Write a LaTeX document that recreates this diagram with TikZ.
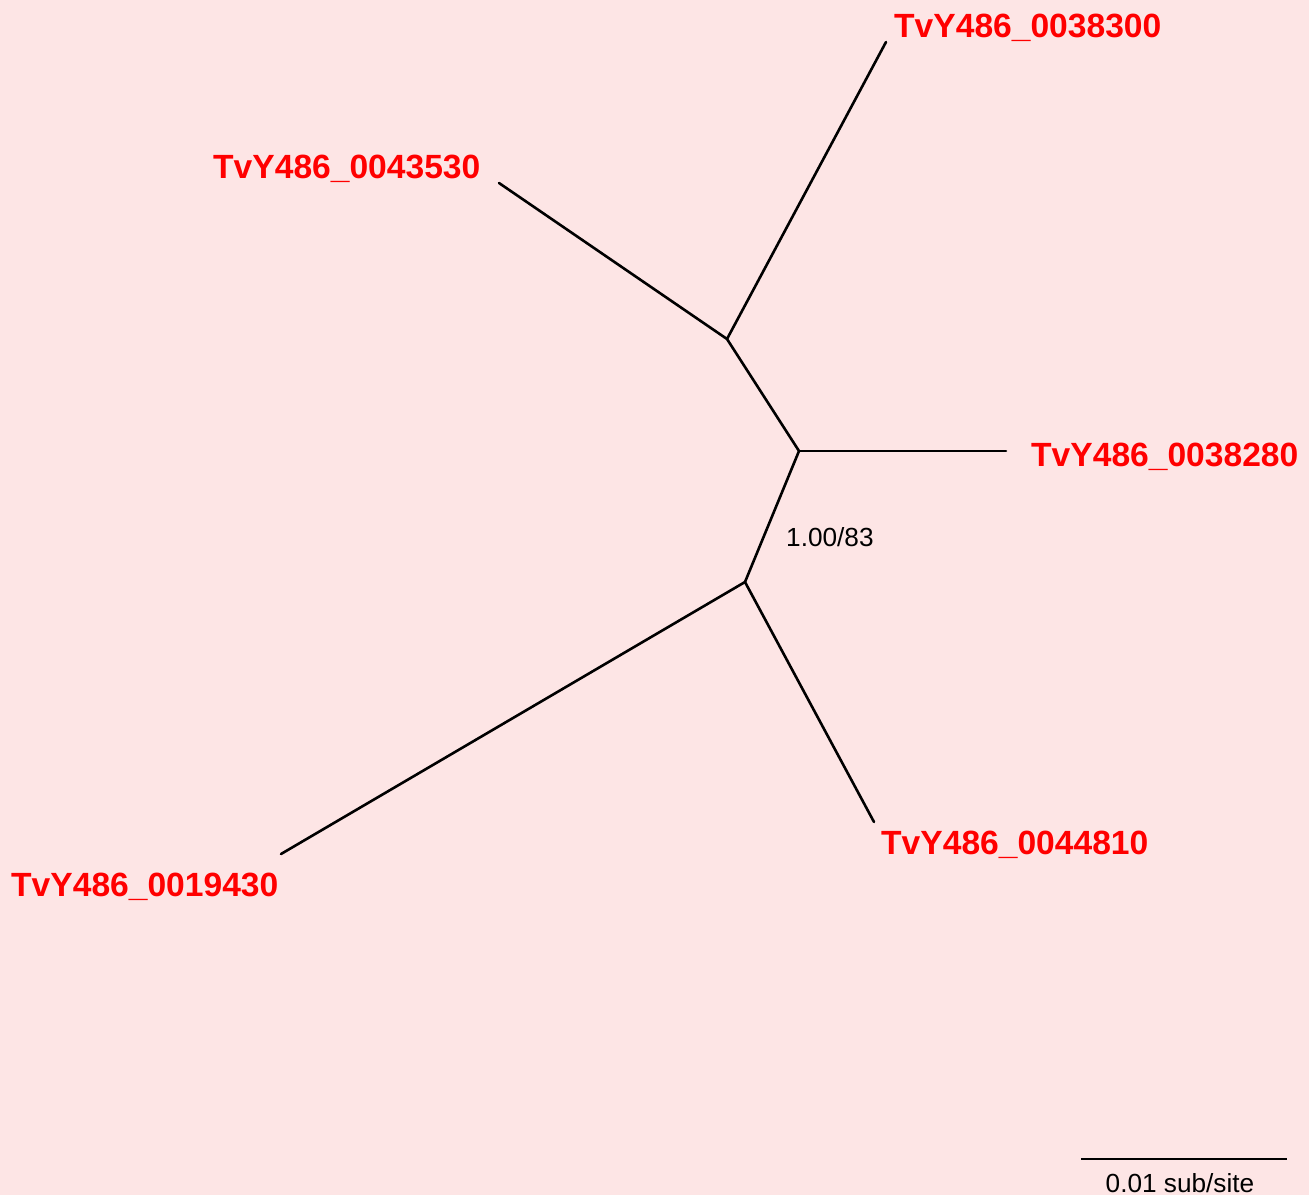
\documentclass[tikz,border=0pt]{standalone}
\usepackage{fontspec}
\setmainfont{Liberation Sans}
\definecolor{bgpink}{HTML}{FDE5E5}
\definecolor{leafred}{HTML}{FF0000}
\begin{document}
\begin{tikzpicture}[x=1pt,y=-1pt,
  branch/.style={line width=2.6pt,black,line cap=round,line join=round},
  leaflabel/.style={anchor=base west,inner sep=0pt,text=leafred,font=\fontsize{33.6}{38}\selectfont\bfseries},
  smalltext/.style={inner sep=0pt,font=\fontsize{26.2}{30}\selectfont}]
\fill[bgpink] (0,0) rectangle (1309,1195);
\useasboundingbox (0,0) rectangle (1309,1195);
% internal nodes
\coordinate (A) at (727,339);
\coordinate (B) at (799,451);
\coordinate (C) at (745,582);
% leaf ends
\coordinate (l1) at (886,42);
\coordinate (l2) at (499,183);
\coordinate (l3) at (1006,451);
\coordinate (l4) at (874,822);
\coordinate (l5) at (281,854);
\draw[branch] (A) -- (l1);
\draw[branch] (A) -- (l2);
\draw[branch] (A) -- (B);
\draw[branch] (B) -- (l3);
\draw[branch] (B) -- (C);
\draw[branch] (C) -- (l4);
\draw[branch] (C) -- (l5);
% labels
\node[leaflabel] (t1) at (894,37) {TvY486\_0038300};
\node[leaflabel] (t2) at (213,178) {TvY486\_0043530};
\node[leaflabel] (t3) at (1031,466) {TvY486\_0038280};
\node[leaflabel] (t4) at (881,854) {TvY486\_0044810};
\node[leaflabel] (t5) at (11,896) {TvY486\_0019430};
\node[smalltext,anchor=base west] (sup) at (786,546) {1.00/83};
% scale bar
\coordinate (s1) at (1081,1159);
\coordinate (s2) at (1287,1159);
\draw[line width=2.6pt] (s1) -- (s2);
\node[smalltext,anchor=base] (sl) at (1180,1192) {0.01 sub/site};
\end{tikzpicture}
\end{document}
